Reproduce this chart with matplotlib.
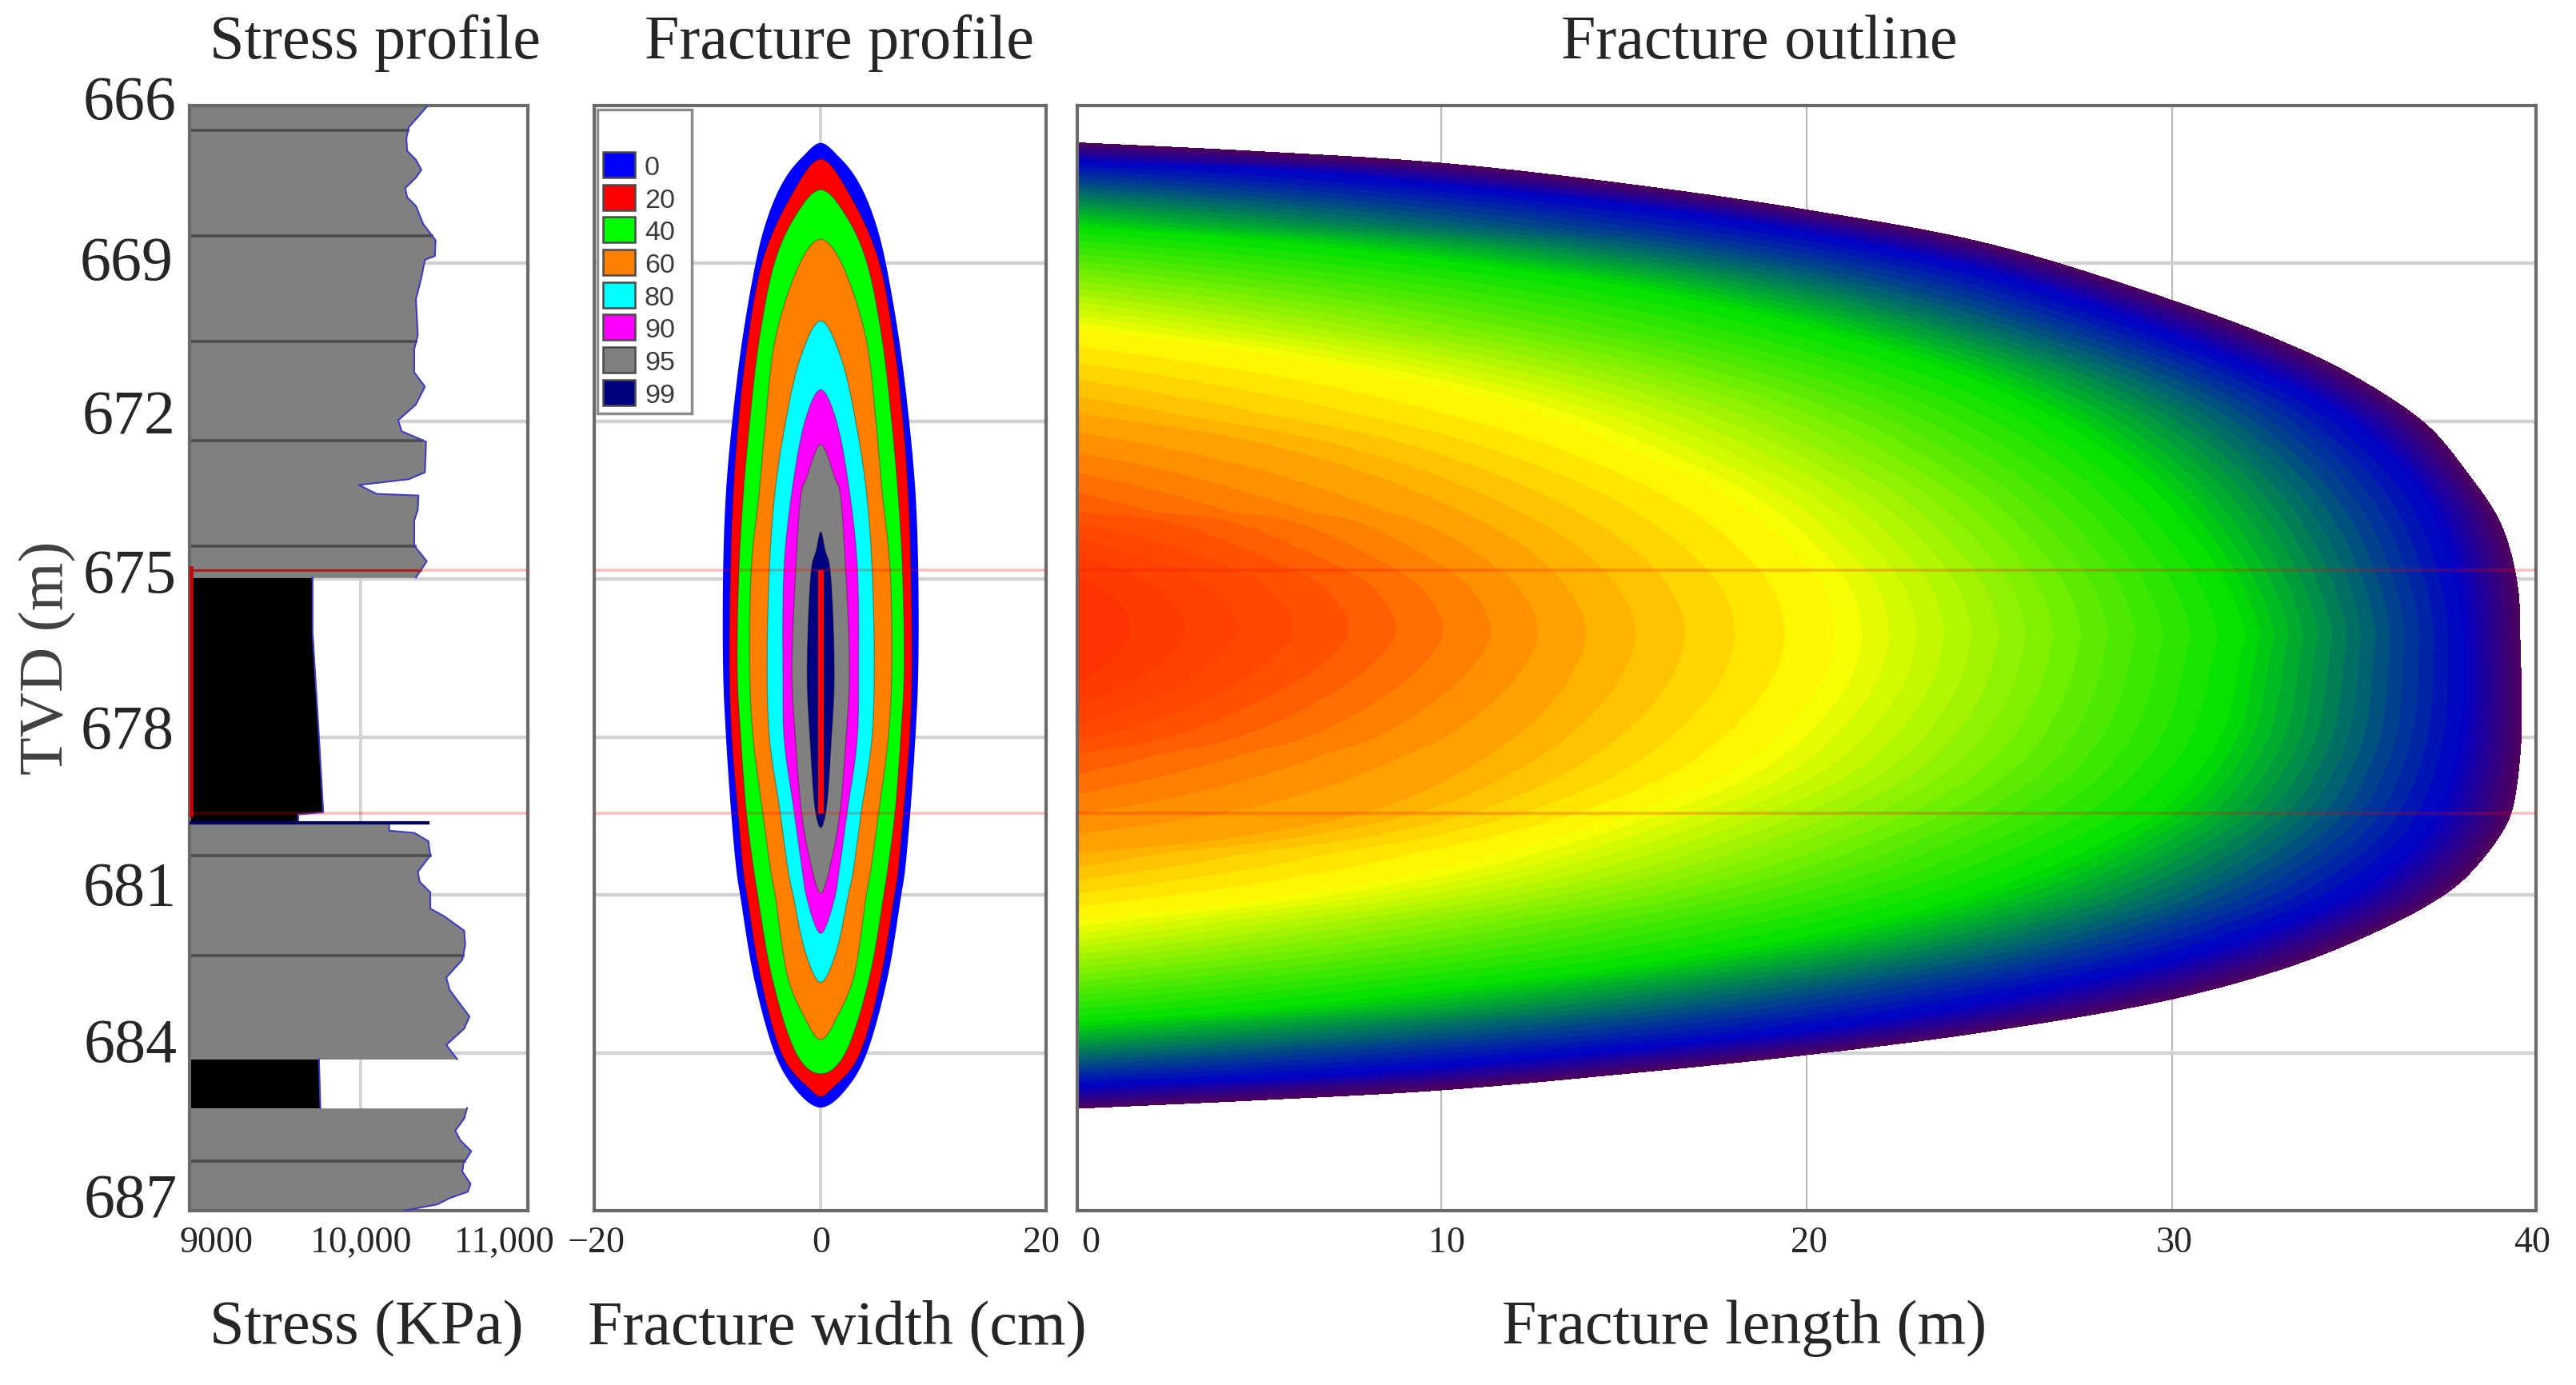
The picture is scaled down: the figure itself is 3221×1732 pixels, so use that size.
import numpy as np
import matplotlib
matplotlib.use('Agg')
import matplotlib.pyplot as plt
from matplotlib.colors import BoundaryNorm, ListedColormap, to_rgb
from matplotlib.patches import Rectangle

W, H = 3221, 1733
plt.rcParams['font.family'] = ['Liberation Serif', 'DejaVu Serif']

# y axis
depth_labels = ['666', '669', '672', '675', '678', '681', '684', '687']
depth_grid = [669, 672, 675, 678, 681, 684]
zone_top = 674.83
zone_bottom = 679.45

# stress profile (depth m, stress KPa)
upper_depth = [666.0, 666.22, 666.41, 666.62, 666.86, 667.03, 667.22, 667.37, 667.57, 667.74, 667.91, 668.25,
               668.56, 668.86, 668.93, 669.27, 669.68, 670.36, 670.63, 671.07, 671.34, 671.68, 671.98, 672.19,
               672.32, 672.39, 672.97, 673.10, 673.21, 673.38, 673.41, 673.68, 673.89, 674.36, 674.66, 674.97]
upper_stress = [10471, 10401, 10338, 10321, 10326, 10388, 10426, 10388, 10313, 10326, 10388, 10439,
                10526, 10521, 10451, 10426, 10388, 10401, 10376, 10376, 10451, 10388, 10263, 10288,
                10401, 10459, 10451, 10338, 9987, 10113, 10406, 10401, 10376, 10376, 10464, 10388]
shale_depth = [674.97, 676.0, 678.0, 679.43, 679.47, 679.63]
shale_stress = [9662, 9662, 9707, 9737, 9561, 9561]
mid_depth = [679.63, 679.78, 679.82, 679.98, 680.25, 680.56, 680.75, 680.95, 681.26, 681.41, 681.68, 681.95,
             682.23, 682.57, 682.81, 683.31, 683.54, 683.85, 684.12]
mid_stress = [10200, 10200, 10376, 10476, 10489, 10401, 10414, 10489, 10489, 10589, 10727, 10734,
              10714, 10601, 10626, 10764, 10727, 10601, 10677]
shale2_depth = [684.12, 685.05]
shale2_stress = [9707, 9717]
lower_depth = [685.05, 685.25, 685.48, 685.67, 685.87, 686.10, 686.26, 686.49, 686.64, 686.76, 686.88, 686.95, 687.0]
lower_stress = [10747, 10727, 10664, 10702, 10777, 10722, 10714, 10772, 10752, 10626, 10539, 10401, 10301]
band_depths = [666.47, 668.47, 670.48, 672.36, 674.38, 680.25, 682.16, 686.06]

# fracture profile: (depth m, half width cm) for each contour
profile_names = ['0', '20', '40', '60', '80', '90', '95', '99']
profile_colors = ['#0000ff', '#ff0000', '#00ff00', '#ff8000', '#00ffff', '#ff00ff', '#808080', '#000080']
profile_depth = [
    [666.71, 666.97, 667.33, 667.78, 668.39, 669.02, 670.51, 672.0, 673.33, 674.77, 676.81, 678.01, 679.43, 680.59, 681.0, 682.5, 684.0, 684.68, 685.04],
    [667.02, 667.63, 669.02, 670.51, 672.0, 673.33, 674.77, 676.81, 678.01, 679.43, 680.59, 681.0, 682.5, 684.0, 684.68, 684.83],
    [667.60, 668.08, 669.02, 670.51, 672.0, 673.33, 674.77, 676.81, 678.01, 679.43, 680.59, 681.0, 682.5, 684.0, 684.40],
    [668.54, 669.02, 670.51, 672.0, 673.33, 674.77, 676.81, 678.01, 679.43, 680.59, 681.0, 682.5, 683.28, 683.75],
    [670.09, 670.86, 672.0, 673.33, 674.77, 676.81, 678.01, 679.43, 680.59, 681.0, 682.06, 682.66],
    [671.40, 672.0, 673.33, 674.77, 676.81, 678.01, 679.43, 680.59, 681.0, 681.73],
    [672.44, 673.1, 673.33, 674.77, 676.81, 678.01, 679.43, 680.24, 680.97],
    [674.10, 674.46, 674.77, 676.81, 678.01, 679.43, 679.72],
]
profile_half = [
    [0, 1.6, 3.0, 4.1, 5.1, 5.8, 7.0, 7.85, 8.4, 8.65, 8.65, 8.4, 7.95, 7.45, 7.15, 6.0, 4.1, 2.3, 0],
    [0, 2.4, 5.25, 6.5, 7.3, 7.75, 8.0, 8.1, 7.9, 7.35, 6.85, 6.55, 5.4, 3.5, 1.0, 0],
    [0, 2.2, 4.15, 5.5, 6.3, 6.85, 7.25, 7.4, 7.1, 6.6, 5.9, 5.6, 4.4, 2.2, 0],
    [0, 1.9, 4.1, 4.9, 5.45, 6.15, 6.3, 6.0, 5.15, 4.4, 4.05, 3.0, 1.55, 0],
    [0, 1.9, 3.1, 4.05, 4.55, 4.75, 4.55, 3.6, 2.85, 2.45, 1.4, 0],
    [0, 1.4, 2.55, 3.25, 3.35, 3.25, 2.35, 1.6, 1.3, 0],
    [0, 1.3, 1.7, 2.2, 2.55, 2.25, 1.7, 1.05, 0],
    [0, 0.4, 0.8, 1.2, 0.95, 0.45, 0],
]
core_half = 0.25

# fracture outline: contour lines (x m, depth m), edge first, then inwards
level_colors = ['#50005a', '#0000c8', '#00e100', '#ffff00', '#ffaa00', '#ff5500', '#ff3000']
edge_top_x = [0, 5, 10, 15, 20, 25, 30, 33, 35, 37, 38, 39, 39.45, 39.53, 39.56]
edge_top_d = [666.69, 666.86, 667.08, 667.47, 667.97, 668.62, 669.69, 670.47, 671.14, 672.08, 672.9, 673.95, 675.1, 676.3, 677.3]
edge_bot_x = [0, 5, 10, 15, 20, 25, 30, 33, 35, 37, 38, 39, 39.3, 39.53, 39.56]
edge_bot_d = [685.07, 684.91, 684.72, 684.41, 684.05, 683.6, 682.99, 682.42, 681.89, 681.2, 680.7, 679.85, 679.4, 678.3, 677.3]
blue_top_x = [0, 5, 10, 15, 20, 25, 30, 33, 35, 37, 37.8, 37.95]
blue_top_d = [667.07, 667.2, 667.51, 667.89, 668.43, 669.18, 670.38, 671.26, 672.08, 673.6, 675.23, 676.6]
blue_bot_x = [0, 5, 10, 15, 20, 25, 30, 33, 35, 37, 37.8, 37.95]
blue_bot_d = [684.63, 684.5, 684.25, 683.93, 683.56, 682.99, 682.23, 681.54, 680.91, 679.71, 678.2, 676.6]
green_top_x = [0, 5, 10, 15, 20, 25, 28, 30, 31.5, 32.0]
green_top_d = [668.3, 668.55, 668.93, 669.43, 670.19, 671.32, 672.46, 673.66, 675.11, 676.1]
green_bot_x = [0, 5, 10, 15, 20, 25, 28.2, 30, 31.4, 31.9, 32.0]
green_bot_d = [683.43, 683.18, 682.8, 682.36, 681.79, 680.91, 679.97, 679.21, 677.89, 676.31, 676.1]
yellow_top_x = [0, 4.8, 9.7, 12.75, 15.3, 17.9, 19.4, 20.5, 20.75]
yellow_top_d = [670.25, 670.69, 671.32, 671.89, 672.59, 673.47, 674.29, 675.23, 676.0]
yellow_bot_x = [0, 4.8, 9.7, 12.75, 15.3, 17.9, 19.4, 20.5, 20.75]
yellow_bot_d = [681.48, 681.1, 680.53, 679.97, 679.4, 678.64, 677.82, 676.81, 676.0]
orange_top_x = [0, 5, 8.9, 12.2, 13.5, 13.95]
orange_top_d = [671.83, 672.4, 673.22, 674.35, 675.23, 676.0]
orange_bot_x = [0, 5, 8.9, 12.2, 13.5, 13.95]
orange_bot_d = [680.22, 679.84, 679.21, 677.89, 676.88, 676.0]
hot_top_x = [0, 2.5, 5, 6.9, 7.45]
hot_top_d = [673.72, 673.91, 674.54, 675.23, 675.95]
hot_bot_x = [0, 2.5, 5, 6.9, 7.45]
hot_bot_d = [678.33, 678.01, 677.32, 676.5, 675.95]
hot_center_depth = 675.9

contours = [
    (edge_top_x, edge_top_d, edge_bot_x, edge_bot_d),
    (blue_top_x, blue_top_d, blue_bot_x, blue_bot_d),
    (green_top_x, green_top_d, green_bot_x, green_bot_d),
    (yellow_top_x, yellow_top_d, yellow_bot_x, yellow_bot_d),
    (orange_top_x, orange_top_d, orange_bot_x, orange_bot_d),
    (hot_top_x, hot_top_d, hot_bot_x, hot_bot_d),
]

TEXT = '#262626'
FRAME = '#6a6a6a'
GRID = '#d2d2d2'


def pos(left, right, top=133, bottom=1515):
    return [left / W, 1 - bottom / H, (right - left) / W, (bottom - top) / H]


def ftext(x, y, s, size, **kw):
    kw.setdefault('color', TEXT)
    kw.setdefault('va', 'baseline')
    return fig.text(x / W, 1 - y / H, s, fontsize=size * 0.72, **kw)


def rounded(px, py, closed=False, n=16):
    # centripetal Catmull-Rom through the read points, so outlines are not polygons
    p = np.column_stack([px, py]).astype(float)
    if closed:
        p = np.vstack([p[-1], p, p[:2]])
    else:
        p = np.vstack([2 * p[0] - p[1], p, 2 * p[-1] - p[-2]])
    out = []
    for i in range(len(p) - 3):
        p0, p1, p2, p3 = p[i:i + 4]
        t0 = 0.0
        t1 = t0 + np.linalg.norm(p1 - p0) ** 0.5
        t2 = t1 + np.linalg.norm(p2 - p1) ** 0.5
        t3 = t2 + np.linalg.norm(p3 - p2) ** 0.5
        t = np.linspace(t1, t2, n, endpoint=False)[:, None]
        a1 = ((t1 - t) * p0 + (t - t0) * p1) / (t1 - t0)
        a2 = ((t2 - t) * p1 + (t - t1) * p2) / (t2 - t1)
        a3 = ((t3 - t) * p2 + (t - t2) * p3) / (t3 - t2)
        b1 = ((t2 - t) * a1 + (t - t0) * a2) / (t2 - t0)
        b2 = ((t3 - t) * a2 + (t - t1) * a3) / (t3 - t1)
        out.append(((t2 - t) * b1 + (t - t1) * b2) / (t2 - t1))
    out.append(p[-2][None, :])
    out = np.vstack(out)
    return out[:, 0], out[:, 1]


fig = plt.figure(figsize=(W / 100, H / 100), dpi=100)
ax1 = fig.add_axes(pos(237, 660))
ax2 = fig.add_axes(pos(743, 1308))
ax3 = fig.add_axes(pos(1347, 3171))

for ax in (ax1, ax2, ax3):
    ax.set_ylim(687, 666)
    ax.set_yticks(depth_grid)
    ax.tick_params(length=0, labelleft=False, labelbottom=False)
    ax.grid(True, axis='y', color=GRID, lw=3.2)
    ax.set_axisbelow(True)
    for s in ax.spines.values():
        s.set_color(FRAME)
        s.set_linewidth(3)

ax1.set_xlim(8798, 11174)
ax1.set_xticks([10000])
ax1.grid(True, axis='x', color=GRID, lw=2.6)
ax2.set_xlim(-20.1, 20)
ax2.set_xticks([0])
ax2.grid(True, axis='x', color=GRID, lw=2.6)
ax3.set_xlim(0.04, 39.96)
ax3.set_xticks([10, 20, 30])
ax3.grid(True, axis='x', color='#bdbdbd', lw=1.6)

# stress profile
x0 = ax1.get_xlim()[0]
for d, s, col in [(upper_depth, upper_stress, '#808080'), (shale_depth, shale_stress, 'black'),
                  (mid_depth, mid_stress, '#808080'), (shale2_depth, shale2_stress, 'black'),
                  (lower_depth, lower_stress, '#808080')]:
    ax1.fill_betweenx(d, x0, s, color=col, lw=0, zorder=2)
    ax1.plot(s, d, color='#3c3cc4', lw=1.5, zorder=3)
for d, s in [(upper_depth, upper_stress), (mid_depth, mid_stress), (lower_depth, lower_stress)]:
    for b in band_depths:
        if d[0] < b < d[-1]:
            ax1.plot([x0, np.interp(b, d, s)], [b, b], color='#4d4d4d', lw=2.6, zorder=2.5)
ax1.plot([x0, 10471], [679.63, 679.63], color='#000060', lw=3, zorder=3)
ax1.plot([x0, x0], [zone_top, zone_bottom], color='#c80000', lw=7, zorder=4)
ax1.plot([x0, np.interp(zone_top, upper_depth, upper_stress)], [zone_top, zone_top], color='#8a2a2a', lw=2, zorder=4)

# fracture profile
for k in range(len(profile_colors)):
    d = np.array(profile_depth[k], dtype=float)
    h = np.array(profile_half[k], dtype=float)
    loop_x = np.concatenate([h[:-1], -h[:0:-1]])
    loop_d = np.concatenate([d[:-1], d[:0:-1]])
    sx, sd = rounded(loop_x, loop_d, closed=True)
    edge = 'none' if k == 0 else (0, 0, 0, 0.3)
    ax2.fill(sx, sd, facecolor=profile_colors[k], edgecolor=edge, lw=1, zorder=2 + k * 0.01)
ax2.fill_betweenx([zone_top, zone_bottom], -core_half, core_half, color='#ff0000', lw=0, zorder=2.5)

# fracture outline, colour field built row by row from the contours above
cold_edges = np.linspace(0, 3, 46)
hot_edges = np.linspace(3, 6, 16)[1:]
edges = np.concatenate([cold_edges, hot_edges])
mids = (edges[:-1] + edges[1:]) / 2
rgb = np.array([to_rgb(c) for c in level_colors])
band_rgb = np.column_stack([np.interp(mids, np.arange(7), rgb[:, i]) for i in range(3)])
cmap = ListedColormap(band_rgb)
norm = BoundaryNorm(edges, cmap.N)

curves = []
for tx, td, bx, bd in contours:
    sx, sd = rounded(list(tx) + list(bx[-2::-1]), list(td) + list(bd[-2::-1]))
    curves.append((sx, np.maximum.accumulate(sd)))

# value at x = 0, from the contour depths there
wall_d = [c[1] for c in contours] + [c[3] for c in contours]
wall_d = [d[0] for d in wall_d]
wall_v = list(range(6)) * 2
order = np.argsort(wall_d)
wall_d = np.array(wall_d)[order]
wall_v = np.array(wall_v, dtype=float)[order]
hot_lo, hot_hi = hot_top_d[0], hot_bot_d[0]

col_x = np.linspace(0, 39.7, 1815)
row_d = np.linspace(666, 687, 1382)
field = np.full((row_d.size, col_x.size), np.nan)
for i, d in enumerate(row_d):
    if d < curves[0][1][0] or d > curves[0][1][-1]:
        continue
    if hot_lo < d < hot_hi:
        limit = hot_lo if d < hot_center_depth else hot_hi
        wall = 6 - ((d - hot_center_depth) / (limit - hot_center_depth)) ** 2
    else:
        wall = np.interp(d, wall_d, wall_v)
    xs, vs = [0.0], [wall]
    for k in range(len(curves) - 1, -1, -1):
        sx, sd = curves[k]
        if sd[0] <= d <= sd[-1]:
            xk = max(np.interp(d, sd, sx), xs[-1] + 1e-3)
            xs.append(xk)
            vs.append(float(k))
    field[i] = np.interp(col_x, xs, vs, right=np.nan)
ax3.imshow(field, cmap=cmap, norm=norm, extent=[col_x[0], col_x[-1], row_d[-1], row_d[0]],
           aspect='auto', interpolation='nearest', zorder=2)
ax3.set_xlim(0.04, 39.96)
ax3.set_ylim(687, 666)

# zone lines across all panels
for ax in (ax1, ax2, ax3):
    for z in (zone_top, zone_bottom):
        ax.axhline(z, color='#ff0000', alpha=0.25, lw=2.6, zorder=5)

# legend
fig.add_artist(Rectangle((747 / W, 1 - 518 / H), 118 / W, 380 / H, transform=fig.transFigure,
                         facecolor='white', edgecolor='#8c8c8c', lw=2.5, zorder=6))
legend_y = [207, 248, 288, 329, 370, 410, 451, 492]
for name, col, yc in zip(profile_names, profile_colors, legend_y):
    fig.add_artist(Rectangle((754 / W, 1 - (yc + 16) / H), 40 / W, 32 / H, transform=fig.transFigure,
                             facecolor=col, edgecolor='#4a4a4a', lw=1.8, zorder=7))
    ftext(806, yc + 12, name, 34, family=['Liberation Sans'], color='#3a3a3a', zorder=7)

# texts
ylabel_x = [104, 100, 103, 104, 101, 104, 105, 105]
ylabel_base = [149, 350, 542, 741, 936, 1132, 1328, 1522]
for s, x, y in zip(depth_labels, ylabel_x, ylabel_base):
    ftext(x, y, s, 78, ha='left')
ftext(78, 823, 'TVD (m)', 78, rotation=90, ha='center', rotation_mode='anchor', color='#404040')

xlabels = ['9000', '10,000', '11,000', '\u221220', '0', '20', '0', '10', '20', '30', '40']
xlabel_x = [270, 451, 630, 746, 1027, 1302, 1364, 1809, 2262, 2719, 3166]
for s, x in zip(xlabels, xlabel_x):
    ftext(x, 1566, s, 46, ha='center')

ftext(262, 73, 'Stress profile', 78)
ftext(806, 73, 'Fracture profile', 78)
ftext(1952, 73, 'Fracture outline', 78)
ftext(262, 1680, 'Stress (KPa)', 78)
ftext(735, 1680, 'Fracture width (cm)', 78)
ftext(1878, 1680, 'Fracture length (m)', 78)

fig.savefig('out.png', dpi=100, facecolor='white')
